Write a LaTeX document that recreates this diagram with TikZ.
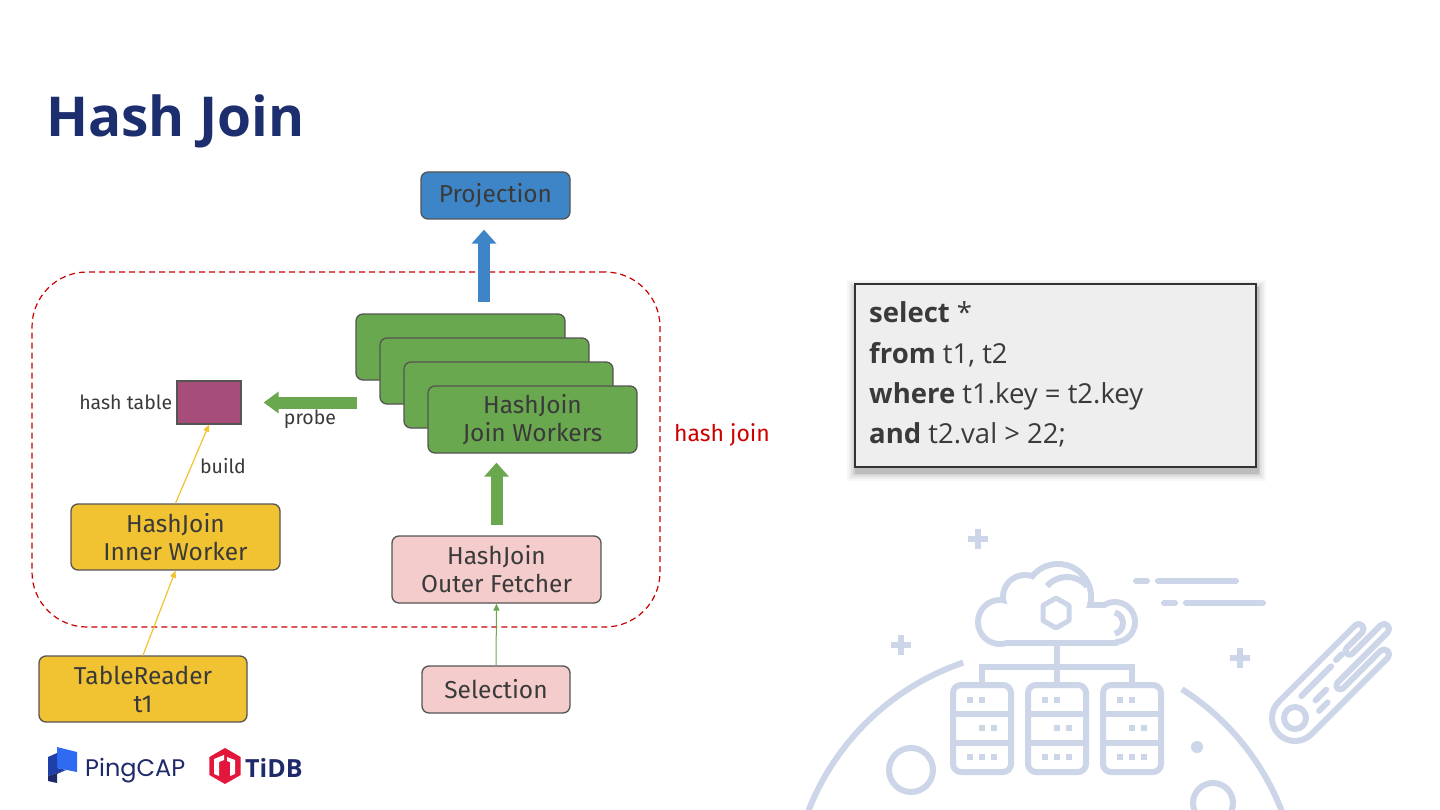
\documentclass[tikz,border=0pt]{standalone}
\usepackage{fontspec}
\setmainfont{Fira Sans}
\newfontfamily\osans{Open Sans}
\newfontfamily\popfont{Poppins}
\usetikzlibrary{arrows.meta,calc}
\definecolor{navy}{HTML}{1C2E6E}
\definecolor{projblue}{HTML}{3D85C6}
\definecolor{wgreen}{HTML}{6AA84F}
\definecolor{htpurple}{HTML}{A64D79}
\definecolor{yel}{HTML}{F1C232}
\definecolor{pinkc}{HTML}{F4CCCC}
\definecolor{edgegray}{HTML}{555555}
\definecolor{txt}{HTML}{3A3A3A}
\definecolor{hjred}{HTML}{CC0000}
\definecolor{deco}{HTML}{CDD5E8}
\definecolor{sqlbg}{HTML}{EEEEEE}
\definecolor{pcnavy}{HTML}{1F2A6B}
\definecolor{pcblue}{HTML}{2F6BF2}
\definecolor{pcmid}{HTML}{1E3FA8}
\definecolor{tidbred}{HTML}{E2173B}
\begin{document}
\begin{tikzpicture}[x=1pt,y=-1pt,
  blk/.style={draw=edgegray, line width=1.3pt, rounded corners=7pt, align=center, text=txt, font=\fontsize{24.5}{28}\selectfont, inner sep=0pt},
  lbl/.style={text=txt, font=\fontsize{19.5}{22}\selectfont, inner sep=0pt},
  fatarrow/.style={line width=12pt, -{Triangle[length=14pt,width=24pt]}},
  thinarrow/.style={line width=1.2pt, -{Triangle[length=7pt,width=6pt]}},
  decoline/.style={draw=deco, line width=6pt, line cap=round, line join=round},
  sqlfont/.style={anchor=base west, inner sep=0pt, text=txt, font=\osans\fontsize{27.5}{30}\selectfont},
]
\useasboundingbox (0,0) rectangle (1440,810);
\fill[white] (0,0) rectangle (1440,810);

% ---------- background decoration ----------
\begin{scope}
\clip (0,0) rectangle (1440,810);
\draw[decoline, line cap=butt] (963.2,662.6) arc[start angle=-108.8, end angle=-205, radius=254];
\draw[decoline, line cap=butt] (1181.9,689.2) arc[start angle=-57.4, end angle=30, radius=254];
\draw[decoline] (911,770) circle[radius=22];
\draw[decoline] (1213,803) circle[radius=20];
\fill[deco] (1197,747) circle[radius=6];
\foreach \px/\py in {978/539, 901/645, 1240/658}
  \draw[decoline, line cap=butt] (\px,\py-10) -- (\px,\py+10) (\px-10,\py) -- (\px+10,\py);
\draw[decoline] (1136,581) -- (1147,581) (1158,581) -- (1236,581);
\draw[decoline] (1164,603) -- (1175,603) (1186,603) -- (1263,603);
% cloud
\foreach \cx/\cy/\cr in {1000/622/22, 1025/597/22, 1058/597/33, 1115/622/20}
  \fill[deco] (\cx,\cy) circle[radius=\cr+3];
\fill[deco] (997,602) rectangle (1118,646);
\foreach \cx/\cy/\cr in {1000/622/22, 1025/597/22, 1058/597/33, 1115/622/20}
  \fill[white] (\cx,\cy) circle[radius=\cr-3];
\fill[white] (1000,608) rectangle (1115,640);
\draw[decoline, line cap=butt] (1067,603.7) ++(-138.6:26.7) arc[start angle=-138.6, end angle=-41.4, radius=26.7];
\draw[decoline, line cap=butt] (1112,623) ++(-75:11) arc[start angle=-75, end angle=75, radius=11];
\draw[deco, line width=5pt, line join=round] (1056,613) +(-90:15) -- +(-30:15) -- +(30:15) -- +(90:15) -- +(150:15) -- +(210:15) -- cycle;
\draw[decoline, line cap=butt, line join=miter] (982,686) -- (982,667) -- (1132,667) -- (1132,686);
\draw[decoline, line cap=butt] (1057,646) -- (1057,686);
\foreach \sx in {953,1028,1103} {
  \draw[decoline, rounded corners=8pt] (\sx,685) rectangle (\sx+58,772);
  \draw[decoline, line cap=butt] (\sx,714) -- (\sx+58,714) (\sx,743) -- (\sx+58,743);
  \foreach \dx/\dy in {17/700, 29/700, 29/728, 41/728, 17/757, 29/757, 41/757}
    \fill[deco] (\sx+\dx-3,\dy-3) rectangle ++(6,6);
}
% comet
\begin{scope}[shift={(1295,718)}]
\begin{scope}[x={(0.7071pt,0.7071pt)}, y={(0.7071pt,-0.7071pt)}]
  \draw[decoline] (0,0) circle[radius=11];
  \draw[decoline] (0,-23) -- (108,-23) arc[start angle=-90, end angle=90, radius=5]
    -- (86,-13) arc[start angle=-90, end angle=-270, radius=4]
    -- (126,-5) arc[start angle=-90, end angle=90, radius=5]
    -- (55,5) arc[start angle=-90, end angle=-270, radius=4]
    -- (108,13) arc[start angle=-90, end angle=90, radius=5]
    -- (0,23) arc[start angle=90, end angle=270, radius=23];
  \draw[decoline] (20,-11) -- (62,-11) (70,-12) -- (78,-12) (27,2) -- (42,2) (22,12) -- (34,12);
\end{scope}
\end{scope}
\end{scope}

% ---------- title ----------
\node[anchor=base west, inner sep=0pt, text=navy, font=\osans\bfseries\fontsize{55}{60}\selectfont] (title) at (46,137) {Hash Join};

% ---------- diagram ----------
\node[draw=hjred, line width=1.2pt, dash pattern=on 6pt off 4pt, rounded corners=55pt,
      minimum width=628pt, minimum height=355pt, inner sep=0pt] (hjbox) at (346,449.5) {};
\node[text=hjred, font=\fontsize{23}{26}\selectfont, inner sep=0pt] (hjl) at (722,435) {hash join};

\node[blk, fill=projblue, minimum width=149pt, minimum height=47pt] (proj) at (495.5,195.5) {Projection};
\node[blk, fill=wgreen, minimum width=209pt, minimum height=66pt] (w1) at (460.5,347) {};
\node[blk, fill=wgreen, minimum width=209pt, minimum height=66pt] (w2) at (484.5,371) {};
\node[blk, fill=wgreen, minimum width=209pt, minimum height=66pt] (w3) at (508.5,395) {};
\node[blk, fill=wgreen, minimum width=209pt, minimum height=67pt] (w4) at (532.5,419.5) {HashJoin\\Join Workers};
\node[draw=edgegray, line width=1.3pt, fill=htpurple, minimum width=64pt, minimum height=43pt, inner sep=0pt] (ht) at (209,402.5) {};
\node[blk, fill=yel, minimum width=209pt, minimum height=66pt] (inner) at (175.5,537) {HashJoin\\Inner Worker};
\node[blk, fill=yel, minimum width=208pt, minimum height=66pt] (tr) at (143,689) {TableReader\\t1};
\node[blk, fill=pinkc, minimum width=209pt, minimum height=67pt] (outer) at (496.5,569.5) {HashJoin\\Outer Fetcher};
\node[blk, fill=pinkc, minimum width=148pt, minimum height=47pt] (sel) at (496,689.5) {Selection};

\node[lbl, anchor=east] (htl) at ($(ht.west)+(-4,0)$) {hash table};
\node[lbl] (probel) at (310,419) {probe};
\node[lbl] (buildl) at (223,466) {build};

\draw[fatarrow, projblue] ($(w1.north)+(23.5,-11)$) -- ($(proj.south)+(-11.5,10)$);
\draw[fatarrow, wgreen] ($(outer.north)+(0,-10)$) -- ($(w4.south -| outer.north)+(0,9)$);
\draw[line width=12pt, -{Triangle[length=15pt,width=21pt]}, wgreen] ($(w1.west |- ht.east)+(2,0)$) -- ($(ht.east)+(22,0)$);
\draw[thinarrow, yel] (inner.north) -- (ht.south);
\draw[thinarrow, yel] (tr.north) -- (inner.south);
\draw[thinarrow, wgreen, line width=1pt] (sel.north) -- (outer.south);

% ---------- SQL box ----------
\foreach \s/\o in {9/0.03, 7/0.04, 5/0.05, 3/0.07, 1.5/0.09}
  \fill[black, opacity=\o] (855-\s+1,284-\s+5) rectangle (1256+\s+1,467+\s+5);
\node[draw=black!80, line width=1.5pt, fill=sqlbg, minimum width=401pt, minimum height=183pt, inner sep=0pt] (sql) at (1055.5,375.5) {};
\node[sqlfont] (q1) at (869,323) {\textbf{select} *};
\node[sqlfont] (q2) at (869,363) {\textbf{from} t1, t2};
\node[sqlfont] (q3) at (869,403) {\textbf{where} t1.key = t2.key};
\node[sqlfont] (q4) at (869,443) {\textbf{and} t2.val > 22;};

% ---------- logos ----------
\fill[pcblue] (57,747) -- (77,752) -- (77,772) -- (57,768) -- cycle;
\fill[pcmid] (48,757) -- (57,753) -- (57,768) -- (66,770) -- (48,776) -- cycle;
\fill[pcnavy] (48,776) -- (66,770) -- (57,774) -- (57,783) -- (48,781) -- cycle;
\node[anchor=base west, inner sep=0pt, text=pcnavy, font=\popfont\fontsize{24}{26}\selectfont] (pct) at (85,776) {PingCAP};
\fill[tidbred] (225,766) +(-90:18) -- +(-30:18) -- +(30:18) -- +(90:18) -- +(150:18) -- +(210:18) -- cycle;
\fill[white] (214,759) -- (224,755) -- (224,760) -- (219,762) -- (219,776) -- (214,774) -- cycle;
\fill[white] (227,757) -- (235,760) -- (235,774) -- (230,776) -- (230,762) -- (227,761) -- cycle;
\node[anchor=base west, inner sep=0pt, text=pcnavy, font=\osans\bfseries\fontsize{25}{28}\selectfont] (tidbt) at (245,777) {TiDB};
\end{tikzpicture}
\end{document}
